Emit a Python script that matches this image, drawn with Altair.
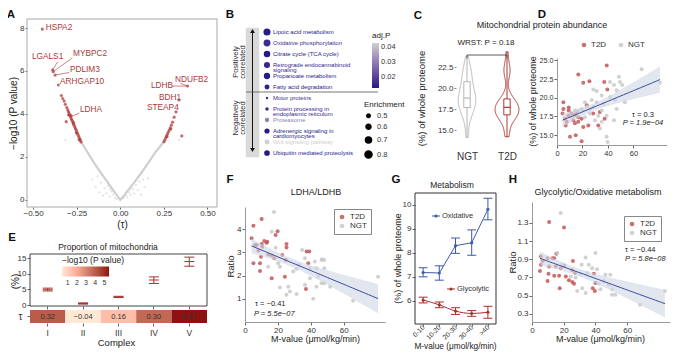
import json
import altair as alt
import numpy as np
import pandas as pd

W, H = 666, 343
FONT = "Liberation Sans"

# ---------------- data: A (volcano) ----------------
a_curve_tau = [-0.225, -0.200, -0.175, -0.150, -0.125, -0.100, -0.075, -0.050, -0.025, 0.000,
               0.025, 0.050, 0.075, 0.100, 0.125, 0.150, 0.175, 0.200, 0.225, 0.250]
a_curve_p = [2.70, 2.38, 2.05, 1.72, 1.42, 1.13, 0.85, 0.56, 0.28, 0.00,
             0.24, 0.50, 0.76, 1.03, 1.30, 1.60, 1.90, 2.20, 2.45, 2.72]
a_bg_tau = [-0.16, -0.14, -0.12, -0.11, -0.10, -0.09, -0.08, -0.07, -0.06, -0.05, -0.04, -0.03, -0.02,
            0.02, 0.03, 0.04, 0.05, 0.06, 0.07, 0.08, 0.09, 0.10, 0.11, 0.12, 0.14, 0.16, -0.13, 0.13,
            -0.06, 0.06, -0.314, 0.337]
a_bg_p = [0.95, 0.60, 0.35, 0.80, 0.20, 0.55, 0.30, 0.65, 0.15, 0.40, 0.25, 0.10, 0.05,
          0.08, 0.20, 0.12, 0.35, 0.25, 0.50, 0.30, 0.70, 0.45, 0.85, 0.25, 0.60, 1.00, 1.10, 0.95,
          0.50, 0.62, 2.79, 2.79]
a_sig_tau = [-0.225, -0.229, -0.233, -0.237, -0.241, -0.245, -0.249, -0.253, -0.257, -0.261,
             -0.265, -0.269, -0.273, -0.277, -0.281, -0.285, -0.289, -0.293, -0.297, -0.301,
             -0.307, -0.315, -0.322, -0.330, -0.338, -0.355, -0.374, -0.384, -0.388, -0.447,
             -0.236, -0.252, -0.268, -0.283, -0.296, -0.310,
             0.251, 0.256, 0.261, 0.266, 0.271, 0.276, 0.281, 0.287, 0.293, 0.300,
             0.309, 0.320, 0.337, 0.386, 0.353, 0.268, 0.290]
a_sig_p = [2.70, 2.78, 2.86, 2.93, 3.01, 3.09, 3.17, 3.25, 3.32, 3.40,
           3.48, 3.55, 3.63, 3.71, 3.78, 3.86, 3.94, 4.02, 4.10, 4.19,
           4.30, 4.45, 4.60, 4.72, 4.86, 5.35, 5.81, 5.97, 6.05, 7.95,
           2.80, 3.12, 3.60, 3.92, 3.95, 3.64,
           2.71, 2.80, 2.89, 2.98, 3.07, 3.16, 3.25, 3.36, 3.48, 3.62,
           3.85, 4.10, 4.65, 5.30, 2.98, 2.95, 3.30]
a_gene = ["HSPA2", "LGALS1", "MYBPC2", "PDLIM3", "ARHGAP10", "LDHA", "LDHB", "NDUFB2", "BDH1", "STEAP4"]
a_gene_tau = [-0.428, -0.507, -0.271, -0.289, -0.346, -0.231, 0.176, 0.314, 0.222, 0.153]
a_gene_p = [8.00, 6.65, 6.79, 6.05, 5.49, 4.18, 5.30, 5.58, 4.74, 4.28]
a_seg_tau1 = [-0.360, -0.274, -0.292, -0.234, 0.296, 0.345]
a_seg_p1 = [6.42, 6.62, 5.93, 4.04, 5.30, 5.43]
a_seg_tau2 = [-0.388, -0.384, -0.374, -0.289, 0.386, 0.386]
a_seg_p2 = [6.05, 5.97, 5.81, 3.86, 5.30, 5.30]

# ---------------- data: B (pathways) ----------------
b_path = ["Lipoic acid metabolism", "Oxidative phosphorylation", "Citrate cycle (TCA cycle)",
          "Retrograde endocannabinoid\nsignaling", "Propanoate metabolism", "Fatty acid degradation",
          "Motor proteins", "Protein processing in\nendoplasmic reticulum", "Proteasome",
          "Adrenergic signaling in\ncardiomyocytes", "Wnt signaling pathway", "Ubiquitin mediated proteolysis"]
b_enrich = [0.80, 0.78, 0.74, 0.70, 0.72, 0.60, 0.45, 0.50, 0.55, 0.62, 0.60, 0.66]
b_adjp = [0.013, 0.016, 0.013, 0.015, 0.013, 0.014, 0.016, 0.015, 0.030, 0.013, 0.043, 0.013]

# ---------------- data: C/D (mitochondrial abundance) ----------------
d_t2d_m = [39.0, 16.7, 25.4, 20.6, 37.1, 39.5, 5.0, 9.2, 5.0, 23.3, 15.4, 11.5, 14.1, 16.7, 8.9, 6.3, 7.6,
           12.8, 19.3, 28.4, 33.6, 37.4, 32.4, 24.6, 20.6, 10.2, 14.7, 19.3, 6.8, 14.1, 16.7, 4.4, 9.2]
d_t2d_y = [24.3, 23.1, 22.2, 22.0, 22.1, 21.1, 19.4, 18.7, 18.5, 19.0, 18.1, 17.9, 17.7, 17.4, 17.6, 17.2, 16.8,
           17.0, 17.2, 17.9, 18.1, 17.2, 16.3, 16.3, 16.1, 14.8, 15.0, 14.2, 16.3, 16.6, 16.8, 17.9, 18.3]
d_ngt_m = [66.4, 80.8, 48.6, 49.4, 51.2, 44.7, 41.6, 46.8, 28.5, 31.1, 35.1, 27.2, 21.9, 31.1, 36.3, 23.3, 19.3,
           28.5, 35.1, 46.8, 16.7, 25.9, 32.4, 38.9, 29.8, 35.1, 44.7, 33.7, 38.9, 39.7, 21.9, 20.6, 25.9, 53.3,
           41.6, 45.5, 14.1, 11.5]
d_ngt_y = [23.8, 22.0, 22.8, 22.1, 21.7, 21.7, 22.1, 21.0, 21.1, 20.9, 20.3, 19.7, 19.4, 19.4, 19.2, 18.8, 18.5,
           18.8, 18.3, 18.5, 18.3, 17.9, 17.6, 17.6, 17.0, 16.8, 17.0, 15.9, 14.8, 14.1, 17.4, 18.3, 18.5, 19.4,
           20.1, 19.7, 18.3, 17.4]
c_groups = ["NGT", "T2D"]

# ---------------- data: E (complexes) ----------------
e_complex = ["I", "II", "III", "IV", "V"]
e_mean = [4.9, 0.5, 2.6, 8.0, 13.9]
e_lo = [4.5, 0.3, 2.4, 6.9, 12.4]
e_hi = [5.4, 0.7, 2.8, 9.0, 15.3]
e_tau = [0.32, -0.04, 0.16, 0.30, 0.37]
e_logp = [4.0, 0.38, 1.5, 3.7, 5.5]

# ---------------- data: F (LDHA/LDHB) ----------------
f_t2d_m = [10.1, 5.1, 19.8, 18.6, 4.0, 11.7, 13.1, 10.1, 6.1, 25.2, 25.2, 37.4, 39.0, 7.1, 10.5, 14.1, 16.2,
           9.7, 5.1, 9.1, 22.6, 17.8, 24.7, 9.1, 16.2, 24.2, 38.4, 37.0, 8.1, 13.5]
f_t2d_r = [4.43, 4.14, 3.91, 3.74, 3.60, 3.49, 3.41, 3.36, 3.31, 3.36, 3.21, 3.03, 3.03, 3.31, 3.24, 2.91, 2.86,
           2.81, 2.53, 2.53, 2.88, 2.74, 2.67, 2.20, 1.88, 1.95, 2.53, 1.42, 3.07, 3.45]
f_ngt_m = [17.6, 16.2, 34.7, 46.9, 18.6, 20.2, 21.2, 29.3, 31.3, 32.7, 39.4, 36.4, 42.4, 43.4, 46.5, 48.1, 48.1,
           44.4, 39.4, 46.5, 48.1, 51.7, 43.4, 36.4, 26.3, 21.2, 27.3, 25.2, 31.3, 41.4, 65.6, 80.8, 14.1]
f_ngt_r = [4.74, 3.89, 3.10, 2.70, 3.20, 2.53, 2.38, 2.17, 2.29, 2.46, 2.31, 2.74, 2.60, 2.31, 2.67, 2.67, 2.31,
           1.95, 1.88, 1.67, 1.67, 1.52, 1.52, 1.60, 1.52, 1.48, 1.31, 1.17, 1.20, 1.00, 0.91, 1.95, 2.38]

# ---------------- data: G (metabolism by M-value bin) ----------------
g_bins = ["0-10", "10-20", "20-30", "30-40", ">40"]
g_ox_mean = [7.18, 7.16, 8.30, 8.42, 9.82]
g_ox_lo = [7.00, 6.86, 7.98, 7.90, 9.38]
g_ox_hi = [7.38, 7.46, 8.62, 8.96, 10.28]
g_gly_mean = [6.03, 5.83, 5.57, 5.47, 5.52]
g_gly_lo = [5.91, 5.71, 5.43, 5.35, 5.27]
g_gly_hi = [6.15, 5.95, 5.71, 5.59, 5.77]

# ---------------- data: H (glycolytic/oxidative) ----------------
h_t2d_m = [10.8, 20.2, 5.6, 6.7, 5.6, 5.0, 9.8, 12.9, 14.0, 15.4, 10.8, 15.0, 18.1, 20.2, 10.4, 14.0, 17.1,
           9.8, 17.5, 25.4, 25.8, 27.1, 23.3, 25.4, 26.5, 21.3, 39.0, 38.3, 39.6, 40.0]
h_t2d_r = [1.31, 1.25, 0.93, 0.88, 0.84, 0.77, 0.91, 0.91, 0.91, 0.96, 0.82, 0.82, 0.80, 0.83, 0.74, 0.72, 0.72,
           0.66, 0.58, 0.78, 0.88, 0.75, 0.67, 0.65, 0.63, 0.71, 0.74, 0.58, 0.55, 0.64]
h_ngt_m = [18.1, 16.0, 19.2, 24.4, 27.5, 30.6, 33.8, 31.3, 34.8, 35.8, 40.0, 31.7, 28.5, 33.8, 42.1, 43.1, 46.3,
           49.4, 45.2, 48.3, 50.4, 52.5, 50.4, 68.1, 83.8, 41.0, 37.9]
h_ngt_r = [1.41, 0.97, 0.84, 0.71, 0.70, 0.74, 0.92, 0.84, 0.75, 0.84, 0.97, 0.58, 0.55, 0.53, 0.63, 0.57, 0.73,
           0.73, 0.66, 0.62, 0.57, 0.51, 0.51, 0.40, 0.55, 0.79, 0.80]

# ---------------- styling ----------------
PT_RED = "#c25757"
PT_GRAY = "#c9c9c9"
LINE_BLUE = "#3b4ba0"
BAND = "#cfd6e4"
A_RED = "#a93a3a"
E_RED = "#a93232"
G_BLUE = "#3d5ba9"
G_RED = "#a8302d"
C_GRAY = "#b5b5b5"
C_RED = "#b03838"


def P(v):
    """reference-picture pixel -> view pixel"""
    return v - 8


ONE = pd.DataFrame({"k": [0]})

AX_BASE = dict(grid=False, labelFont=FONT, titleFont=FONT, labelColor="#333333",
               titleColor="#222222", tickColor="#666666", domainColor="#9a9a9a",
               titleFontWeight="normal", labelFontSize=8, titleFontSize=9.5,
               tickSize=3, labelPadding=1, titleBaseline="middle", titleAlign="center",
               labelFlush=False, labelOverlap=False, labelBound=False)


def axL(X, tcx=None, tcy=None, **kw):
    d = dict(AX_BASE)
    d.update(kw)
    if tcx is not None:
        d["titleX"] = P(tcx) - P(X)
        d["titleY"] = P(tcy)
    return alt.Axis(orient="left", offset=-P(X), **d)


def axB(Y, tcx=None, tcy=None, **kw):
    d = dict(AX_BASE)
    d.update(kw)
    if tcx is not None:
        d["titleX"] = P(tcx)
        d["titleY"] = tcy - Y
    return alt.Axis(orient="bottom", offset=P(Y) - H, **d)


def lin(domain, r0, r1):
    return alt.Scale(domain=domain, range=[P(r0), P(r1)], nice=False, zero=False)


def note(text, x, y, size=9, color="#222222", align="center", baseline="middle",
         weight="normal", style="normal", angle=None, line_height=None):
    kw = dict(text=text, font=FONT, fontSize=size, color=color, align=align,
              baseline=baseline, fontWeight=weight, fontStyle=style)
    if angle is not None:
        kw["angle"] = angle
    if "\n" in text:
        kw["lineBreak"] = "\n"
        kw["lineHeight"] = line_height or size + 1
    return alt.Chart(ONE).mark_text(**kw).encode(x=alt.value(P(x)), y=alt.value(P(y)))


def seg(x1, y1, x2, y2, color="#333333", width=1.0):
    return alt.Chart(ONE).mark_rule(color=color, strokeWidth=width).encode(
        x=alt.value(P(x1)), y=alt.value(P(y1)), x2=alt.value(P(x2)), y2=alt.value(P(y2)))


def frame(x1, y1, x2, y2, stroke="#333333", fill="white", fill_opacity=0.0, width=1.0):
    return alt.Chart(ONE).mark_rect(stroke=stroke, strokeWidth=width, fill=fill,
                                    fillOpacity=fill_opacity).encode(
        x=alt.value(P(x1)), y=alt.value(P(y1)), x2=alt.value(P(x2)), y2=alt.value(P(y2)))


def reg_band(xv, yv):
    x = np.asarray(xv, float)
    y = np.asarray(yv, float)
    b1, b0 = np.polyfit(x, y, 1)
    n = len(x)
    xm = x.mean()
    sxx = ((x - xm) ** 2).sum()
    s = np.sqrt(((y - (b0 + b1 * x)) ** 2).sum() / (n - 2))
    g = np.linspace(x.min(), x.max(), 41)
    fit = b0 + b1 * g
    se = s * np.sqrt(1.0 / n + (g - xm) ** 2 / sxx)
    return pd.DataFrame({"x": g, "fit": fit, "lo": fit - 1.99 * se, "hi": fit + 1.99 * se})


def scatter_panel(t_x, t_y, n_x, n_y, XS, YS, xaxis, yaxis, legend):
    df = pd.DataFrame({"m": t_x + n_x, "v": t_y + n_y,
                       "grp": ["T2D"] * len(t_x) + ["NGT"] * len(n_x)})
    band = reg_band(df["m"], df["v"])
    pts = alt.Chart(df).mark_circle(size=16, opacity=0.85).encode(
        x=alt.X("m:Q", scale=XS, axis=xaxis),
        y=alt.Y("v:Q", scale=YS, axis=yaxis),
        color=alt.Color("grp:N", scale=alt.Scale(domain=["T2D", "NGT"], range=[PT_RED, PT_GRAY]),
                        legend=legend))
    area = alt.Chart(band).mark_area(color=BAND, opacity=0.6).encode(
        x=alt.X("x:Q", scale=XS, axis=None), y=alt.Y("lo:Q", scale=YS, axis=None), y2="hi:Q")
    line = alt.Chart(band).mark_line(color=LINE_BLUE, strokeWidth=1).encode(
        x=alt.X("x:Q", scale=XS, axis=None), y=alt.Y("fit:Q", scale=YS, axis=None))
    return [pts, area, line]


def legend_box(x, y):
    return alt.Legend(title=None, orient="none", legendX=P(x), legendY=P(y), strokeColor="#888888",
                      padding=4, labelFontSize=8, labelFont=FONT, labelColor="#333333",
                      symbolSize=22, rowPadding=1, labelOffset=4, symbolType="circle")


units = []

# ================= Panel A =================
AXS = lin([-0.535, 0.555], 27, 217)
AYS = lin([-0.33, 8.42], 207, 19)
units += [
    frame(27, 19, 217, 207, stroke="#a8a8a8"),
    alt.Chart(pd.DataFrame({"t": a_bg_tau, "p": a_bg_p})).mark_circle(
        size=5, color="#b0b0b0", opacity=0.35).encode(
        x=alt.X("t:Q", scale=AXS, axis=None), y=alt.Y("p:Q", scale=AYS, axis=None)),
    alt.Chart(pd.DataFrame({"t": a_curve_tau, "p": a_curve_p})).mark_line(
        color="#cfcfcf", strokeWidth=2.2).encode(
        x=alt.X("t:Q", scale=AXS, axis=axB(207, 122, 224, title="(τ)", values=[-0.5, -0.25, 0, 0.25, 0.5],
                                            format=".2f", titleFontSize=10, tickSize=2, labelPadding=0,
                                            domain=False)),
        y=alt.Y("p:Q", scale=AYS, axis=axL(27, 13.5, 113, title="−log10 (P value)", values=[0, 2, 4, 6, 8],
                                            titleFontSize=10, tickSize=2, domain=False))),
    alt.Chart(pd.DataFrame({"t": a_sig_tau, "p": a_sig_p})).mark_circle(
        size=10, color="#b03a3a", opacity=0.75).encode(
        x=alt.X("t:Q", scale=AXS, axis=None), y=alt.Y("p:Q", scale=AYS, axis=None)),
    alt.Chart(pd.DataFrame({"t1": a_seg_tau1, "p1": a_seg_p1, "t2": a_seg_tau2, "p2": a_seg_p2})).mark_rule(
        color="#b85050", strokeWidth=0.7).encode(
        x=alt.X("t1:Q", scale=AXS, axis=None), x2="t2:Q",
        y=alt.Y("p1:Q", scale=AYS, axis=None), y2="p2:Q"),
    alt.Chart(pd.DataFrame({"g": a_gene, "t": a_gene_tau, "p": a_gene_p})).mark_text(
        align="left", baseline="middle", font=FONT, fontSize=8.3, color=A_RED).encode(
        x=alt.X("t:Q", scale=AXS, axis=None), y=alt.Y("p:Q", scale=AYS, axis=None), text="g:N"),
]

# ================= Panel B =================
b_df = pd.DataFrame({"path": b_path, "enrich": b_enrich, "adjp": b_adjp,
                     "row": list(range(1, len(b_path) + 1))})
BYS = alt.Scale(domain=[1, len(b_path)], range=[P(32), P(153)], nice=False, zero=False)
B_COLOR = alt.Scale(domain=[0.0127, 0.0427], range=["#23198a", "#d0d0d0"], clamp=True)
units += [
    frame(246, 28, 259, 157, stroke="#d9d9d9", fill="#d9d9d9", fill_opacity=1.0, width=0.5),
    seg(252.5, 31, 252.5, 150, color="#111111", width=1),
    alt.Chart(ONE).mark_point(shape="triangle-up", filled=True, size=22, color="#111111", opacity=1).encode(
        x=alt.value(P(252.5)), y=alt.value(P(31))),
    alt.Chart(ONE).mark_point(shape="triangle-down", filled=True, size=22, color="#111111", opacity=1).encode(
        x=alt.value(P(252.5)), y=alt.value(P(150))),
    seg(246, 92, 378, 92, color="#555555", width=0.8),
    alt.Chart(b_df).mark_circle(opacity=1).encode(
        x=alt.value(P(267)),
        y=alt.Y("row:Q", scale=BYS, axis=None),
        size=alt.Size("enrich:Q", scale=alt.Scale(domain=[0.5, 0.8], range=[12, 50], zero=False),
                      legend=alt.Legend(title="Enrichment", orient="none", legendX=P(364), legendY=P(101),
                                        values=[0.5, 0.6, 0.7, 0.8], format=".1f", symbolFillColor="black",
                                        symbolStrokeColor="black", symbolOpacity=1, titleFontSize=8,
                                        titleFontWeight="normal", labelFontSize=7.5, rowPadding=0,
                                        titleFont=FONT, labelFont=FONT, titlePadding=3, padding=0,
                                        labelColor="#333333", titleColor="#222222")),
        color=alt.Color("adjp:Q", scale=B_COLOR,
                        legend=alt.Legend(title="adj.P", orient="none", legendX=P(372), legendY=P(32),
                                          direction="vertical", gradientLength=45, gradientThickness=7,
                                          values=[0.02, 0.03, 0.04], format=".2f", titleFontSize=8,
                                          titleFontWeight="normal", labelFontSize=7.5, titleFont=FONT,
                                          labelFont=FONT, titlePadding=3, padding=0,
                                          labelColor="#333333", titleColor="#222222"))),
    alt.Chart(b_df).mark_text(align="left", baseline="middle", font=FONT, fontSize=6.0,
                              lineBreak="\n", lineHeight=5.3).encode(
        x=alt.value(P(273)),
        y=alt.Y("row:Q", scale=BYS, axis=None),
        text="path:N",
        color=alt.Color("adjp:Q", scale=B_COLOR, legend=None)),
]

# ================= Panel C =================
c_df = pd.DataFrame({"grp": ["T2D"] * len(d_t2d_y) + ["NGT"] * len(d_ngt_y), "v": d_t2d_y + d_ngt_y})
CXS = alt.Scale(domain=[-1.675, 1.575], range=[P(400), P(530)], nice=False, zero=False)
CYS = lin([13.0, 24.5], 146.8, 50.2)
VK = 1.25
for i, (g, col) in enumerate(zip(c_groups, [C_GRAY, C_RED])):
    base = alt.Chart(c_df).transform_filter(alt.datum.grp == g)
    yax = axL(456, 421, 98, title="(%) of whole proteome", values=[15, 17.5, 20, 22.5], format=".1f",
              domain=False, tickSize=2, tickColor="#888888", titleFontSize=9.5) if i == 0 else None
    xax = axB(148, values=[0, 1], labelExpr=json.dumps(c_groups) + "[datum.value]", title=None,
              domain=False, ticks=False, labelFontSize=10, labelPadding=3) if i == 0 else None
    viol = base.transform_density("v", as_=["v", "dens"]).transform_calculate(
        xl=f"{i} - datum.dens * {VK}", xr=f"{i} + datum.dens * {VK}").mark_area(
        orient="horizontal", fill="white", stroke=col, strokeWidth=1).encode(
        y=alt.Y("v:Q", scale=CYS, axis=yax),
        x=alt.X("xl:Q", scale=CXS, axis=xax), x2="xr:Q")
    stats = base.transform_aggregate(
        q1="q1(v)", med="median(v)", q3="q3(v)", lo="min(v)", hi="max(v)").transform_calculate(
        xc=f"{i}", bl=f"{i} - 0.08", br=f"{i} + 0.08")
    whisk = stats.mark_rule(color=col, strokeWidth=1).encode(
        x=alt.X("xc:Q", scale=CXS, axis=None), y=alt.Y("lo:Q", scale=CYS, axis=None), y2="hi:Q")
    boxm = stats.mark_rect(fill="white", stroke=col, strokeWidth=1).encode(
        x=alt.X("bl:Q", scale=CXS, axis=None), x2="br:Q",
        y=alt.Y("q1:Q", scale=CYS, axis=None), y2="q3:Q")
    med = stats.mark_rule(color=col, strokeWidth=1.2).encode(
        x=alt.X("bl:Q", scale=CXS, axis=None), x2="br:Q", y=alt.Y("med:Q", scale=CYS, axis=None))
    units += [viol, whisk, boxm, med]

# ================= Panel D =================
DXS = lin([0, 86], 557, 666.6)
DYS = lin([13.7, 25.3], 145, 58)
units += scatter_panel(
    d_t2d_m, d_t2d_y, d_ngt_m, d_ngt_y, DXS, DYS,
    axB(145, values=[0, 20, 40, 60], title=None, labelFontSize=7.5),
    axL(557, 532.5, 101, title="(%) of whole proteome", values=[15, 17.5, 20, 22.5, 25], format=".1f",
        labelFontSize=7.2, titleFontSize=9),
    alt.Legend(title=None, orient="none", legendX=P(580), legendY=P(41), direction="horizontal",
               columns=2, columnPadding=10, labelFontSize=8, labelFont=FONT, labelColor="#333333",
               symbolSize=22, labelOffset=3, padding=0, symbolType="circle"))

# ================= Panel E =================
e_df = pd.DataFrame({"c": e_complex, "m": e_mean, "lo": e_lo, "hi": e_hi,
                     "tau": [f"{t:.2f}".replace("-", "−") for t in e_tau],
                     "lp": e_logp, "row": ["τ"] * len(e_complex)})
EXS = alt.Scale(domain=e_complex, range=[P(30), P(207)], paddingInner=0, paddingOuter=0)
EYS = lin([-0.3, 16.3], 306, 254)
units += [
    frame(30, 254, 207, 306, stroke="#444444"),
    alt.Chart(e_df).mark_rule(color=E_RED, strokeWidth=1).encode(
        x=alt.X("c:N", scale=EXS, axis=axB(306, labels=False, tickSize=3, domain=False, title=None)),
        y=alt.Y("lo:Q", scale=EYS, axis=axL(30, 15, 281, title="(%)", values=[0, 5, 10, 15],
                                             domain=False, titleFontSize=10)),
        y2="hi:Q"),
]
for fld in ["lo", "hi", "m"]:
    units.append(alt.Chart(e_df).mark_tick(orient="horizontal", size=10, thickness=1, color=E_RED,
                                           opacity=1).encode(
        x=alt.X("c:N", scale=EXS, axis=None), y=alt.Y(f"{fld}:Q", scale=EYS, axis=None)))

EHS = alt.Scale(domain=["τ"], range=[P(310), P(323)], paddingInner=0, paddingOuter=0)
units += [
    alt.Chart(e_df).mark_rect().encode(
        x=alt.X("c:N", scale=EXS, axis=axB(323, 116, 342, title="Complex", labelFontSize=8.5, labelAngle=0,
                                            domain=False, tickSize=3, labelPadding=2, titleFontSize=9.5)),
        y=alt.Y("row:N", scale=EHS, axis=axL(30, title=None, labelFontSize=10, domain=False, tickSize=3,
                                              labelPadding=5)),
        color=alt.Color("lp:Q", scale=alt.Scale(domain=[0.38, 2.9, 5.5],
                                                range=["#ffffff", "#d88a78", "#8e1212"]),
                        legend=alt.Legend(title="−log10 (P value)", orient="none", legendX=P(62),
                                          legendY=P(256), direction="horizontal", gradientLength=47,
                                          gradientThickness=10, values=[1, 2, 3, 4, 5], titleFontSize=8.5,
                                          labelFontSize=7, titleFontWeight="normal", titleFont=FONT,
                                          labelFont=FONT, titleColor="#222222", labelColor="#333333",
                                          titlePadding=2, padding=0, labelOffset=2))),
    alt.Chart(e_df).mark_text(font=FONT, fontSize=7.5, color="#333333").encode(
        x=alt.X("c:N", scale=EXS, axis=None), y=alt.Y("row:N", scale=EHS, axis=None), text="tau:N"),
]

# ================= Panel F =================
FXS = lin([0, 85], 245, 385)
FYS = lin([0, 4.95], 322, 207)
units += scatter_panel(
    f_t2d_m, f_t2d_r, f_ngt_m, f_ngt_r, FXS, FYS,
    axB(322, 315, 338, title="M-value (μmol/kg/min)", values=[0, 20, 40, 60], titleFontSize=9),
    axL(245, 230, 266, title="Ratio", values=[1, 2, 3, 4], titleFontSize=9.5),
    legend_box(334, 209))

# ================= Panel G =================
g_df = pd.DataFrame({"i": list(range(len(g_bins))), "om": g_ox_mean, "olo": g_ox_lo, "ohi": g_ox_hi,
                     "gm": g_gly_mean, "glo": g_gly_lo, "ghi": g_gly_hi})
GXS = lin([-0.5, 4.5], 415, 496)
GYS = lin([5.03, 10.5], 324, 193)
units.append(frame(415, 193, 496, 324, stroke="#333333"))
first = True
for pre, col, interp in [("o", G_BLUE, "linear"), ("g", G_RED, "monotone")]:
    xax = axB(324, 455, 346.5, title="M-value (μmol/kg/min)", values=[0, 1, 2, 3, 4],
              labelExpr=json.dumps(g_bins) + "[datum.value]", labelAngle=315, labelAlign="right",
              labelBaseline="middle", domain=False, tickSize=2, labelPadding=0, labelFontSize=6.7,
              titleFontSize=8.3) if first else None
    yax = axL(415, 397, 258, title="(%) of whole proteome", values=[6, 7, 8, 9, 10], domain=False,
              titleFontSize=9) if first else None
    first = False
    units += [
        alt.Chart(g_df).mark_rule(color=col, strokeWidth=1).encode(
            x=alt.X("i:Q", scale=GXS, axis=xax), y=alt.Y(f"{pre}lo:Q", scale=GYS, axis=yax), y2=f"{pre}hi:Q"),
        alt.Chart(g_df).mark_tick(orient="horizontal", size=9, thickness=1, color=col, opacity=1).encode(
            x=alt.X("i:Q", scale=GXS, axis=None), y=alt.Y(f"{pre}lo:Q", scale=GYS, axis=None)),
        alt.Chart(g_df).mark_tick(orient="horizontal", size=9, thickness=1, color=col, opacity=1).encode(
            x=alt.X("i:Q", scale=GXS, axis=None), y=alt.Y(f"{pre}hi:Q", scale=GYS, axis=None)),
        alt.Chart(g_df).mark_line(color=col, strokeWidth=1, interpolate=interp).encode(
            x=alt.X("i:Q", scale=GXS, axis=None), y=alt.Y(f"{pre}m:Q", scale=GYS, axis=None)),
        alt.Chart(g_df).mark_circle(color=col, size=10, opacity=1).encode(
            x=alt.X("i:Q", scale=GXS, axis=None), y=alt.Y(f"{pre}m:Q", scale=GYS, axis=None)),
    ]

# ================= Panel H =================
HXS = lin([0, 87], 532, 670)
HYS = lin([0.21, 1.53], 322, 202)
units += scatter_panel(
    h_t2d_m, h_t2d_r, h_ngt_m, h_ngt_r, HXS, HYS,
    axB(322, 600, 338, title="M-value (μmol/kg/min)", values=[0, 20, 40, 60], titleFontSize=9),
    axL(532, 512, 262, title="Ratio", values=[0.3, 0.5, 0.7, 0.9, 1.1, 1.3], format=".1f", titleFontSize=9.5),
    legend_box(624, 216))

# ================= annotations =================
units += [
    # panel letters
    note("A", 11, 15, size=11.5, weight="bold", color="#111111"),
    note("B", 230, 15, size=11.5, weight="bold", color="#111111"),
    note("C", 418, 16, size=11.5, weight="bold", color="#111111"),
    note("D", 542, 15, size=11.5, weight="bold", color="#111111"),
    note("E", 12, 238, size=11.5, weight="bold", color="#111111"),
    note("F", 230, 180, size=11.5, weight="bold", color="#111111"),
    note("G", 396, 180, size=11.5, weight="bold", color="#111111"),
    note("H", 513, 180, size=11.5, weight="bold", color="#111111"),
    # B side labels
    note("Positively\ncorrelated", 235.5, 62, size=7.5, angle=270, color="#333333", line_height=7.5),
    note("Negatively\ncorrelated", 235.5, 118, size=7.5, angle=270, color="#333333", line_height=7.5),
    # C test annotation
    note("WRST: P = 0.18", 486, 43, size=8, color="#222222"),
    seg(467, 55, 507, 55, color="#333333", width=0.8),
    seg(467, 55, 467, 58.5, color="#333333", width=0.8),
    seg(507, 55, 507, 58.5, color="#333333", width=0.8),
    # panel titles
    note("Mitochondrial protein abundance", 542, 25, size=9),
    note("Proportion of mitochondria", 108, 247, size=8.5),
    note("LDHA/LDHB", 316, 192, size=9),
    note("Metabolism", 452, 185, size=8.5),
    note("Glycolytic/Oxidative metabolism", 598, 192, size=9),
    # correlation statistics
    note("τ = 0.3", 643, 115, size=7.5),
    note("P = 1.9e−04", 643, 123, size=7.5, style="italic"),
    note("τ = −0.41", 255, 304, size=7.5, align="left"),
    note("P = 5.5e−07", 254, 314, size=7.5, align="left", style="italic"),
    note("τ = −0.44", 625, 250, size=7.5, align="left"),
    note("P = 5.8e−08", 625, 259, size=7.5, align="left", style="italic"),
    # G direct labels
    seg(432, 216, 440, 216, color=G_BLUE, width=1),
    alt.Chart(ONE).mark_circle(color=G_BLUE, size=10, opacity=1).encode(
        x=alt.value(P(436)), y=alt.value(P(216))),
    note("Oxidative", 442, 216, size=7.5, align="left", color="#333333"),
    seg(447, 289, 455, 289, color=G_RED, width=1),
    alt.Chart(ONE).mark_circle(color=G_RED, size=10, opacity=1).encode(
        x=alt.value(P(451)), y=alt.value(P(289))),
    note("Glycolytic", 457, 289, size=7.5, align="left", color="#333333"),
]

chart = alt.layer(*units).resolve_scale(
    x="independent", y="independent", color="independent", size="independent"
).properties(
    width=W, height=H, padding=0, background="white",
    autosize=alt.AutoSizeParams(type="none"),
).configure(font=FONT).configure_view(strokeWidth=0)

chart.save("out.html", embed_options={"renderer": "svg", "actions": False})
